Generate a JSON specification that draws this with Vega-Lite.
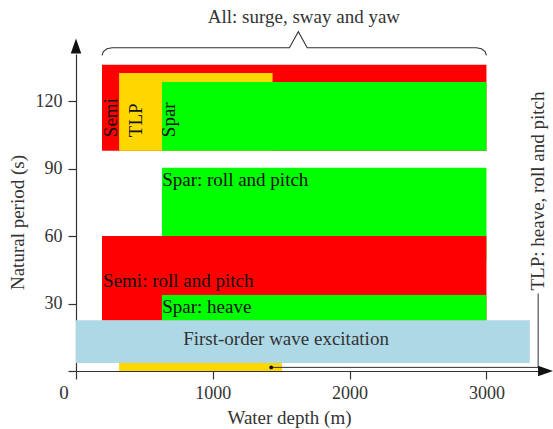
{
  "$schema": "https://vega.github.io/schema/vega-lite/v6.json",
  "width": 472,
  "height": 317,
  "autosize": {"type": "none"},
  "padding": {"left": 76, "top": 54, "right": 5, "bottom": 58},
  "background": "white",
  "config": {
    "view": {"stroke": null},
    "font": "Liberation Serif",
    "axis": {
      "grid": false,
      "domainColor": "#333333",
      "domainWidth": 1.2,
      "tickColor": "#333333",
      "tickWidth": 1.2,
      "tickSize": 8,
      "labelFont": "Liberation Serif",
      "labelFontSize": 18,
      "labelColor": "#333333",
      "titleFont": "Liberation Serif",
      "titleFontSize": 19,
      "titleFontWeight": "normal",
      "titleColor": "#333333"
    }
  },
  "datasets": {
    "rects": [
      {"name": "Semi all", "group": "Semi", "x": 190, "x2": 3000, "y": 98, "y2": 136.2},
      {"name": "TLP all", "group": "TLP", "x": 315, "x2": 1437, "y": 98, "y2": 132.5},
      {"name": "Spar all", "group": "Spar", "x": 628, "x2": 3000, "y": 98, "y2": 128.5},
      {"name": "Spar roll and pitch", "group": "Spar", "x": 628, "x2": 3000, "y": 49, "y2": 90.4},
      {"name": "Semi roll and pitch", "group": "Semi", "x": 190, "x2": 3000, "y": 22.4, "y2": 60.1},
      {"name": "Spar heave", "group": "Spar", "x": 628, "x2": 3000, "y": 22.4, "y2": 33.8},
      {"name": "First-order wave excitation", "group": "Wave", "x": 0, "x2": 3317, "y": 3.6, "y2": 22.6},
      {"name": "TLP heave, roll and pitch", "group": "TLP", "x": 315, "x2": 1506, "y": 0, "y2": 3.6}
    ],
    "leftLabels": [
      {"label": "Spar: roll and pitch", "x": 630, "y": 89},
      {"label": "Semi: roll and pitch", "x": 198, "y": 44.2},
      {"label": "Spar: heave", "x": 630, "y": 32.6}
    ],
    "vertLabels": [
      {"label": "Semi", "x": 254, "y": 104},
      {"label": "TLP", "x": 441, "y": 104},
      {"label": "Spar", "x": 677, "y": 104}
    ],
    "greyLabels": [
      {"label": "First-order wave excitation", "x": 1535, "y": 14.2},
      {"label": "All: surge, sway and yaw", "x": 1666, "y": 157.4},
      {"label": "0", "x": -88, "y": -9.6}
    ],
    "tlpLabel": [
      {"label": "TLP: heave, roll and pitch", "x": 3378, "y": 35.8}
    ],
    "pointer": [
      {"i": 0, "x": 1427, "y": 1.6},
      {"i": 1, "x": 3378, "y": 1.6},
      {"i": 2, "x": 3378, "y": 34.5}
    ],
    "pointerDot": [
      {"x": 1427, "y": 1.6}
    ],
    "brace": [
      {"i": 0, "x": 190, "y": 140.4},
      {"i": 1, "x": 199.8, "y": 142.1},
      {"i": 2, "x": 226.5, "y": 143.35},
      {"i": 3, "x": 263, "y": 143.8},
      {"i": 4, "x": 1560, "y": 143.8},
      {"i": 5, "x": 1625, "y": 150.9},
      {"i": 6, "x": 1690, "y": 143.8},
      {"i": 7, "x": 2927, "y": 143.8},
      {"i": 8, "x": 2963.5, "y": 143.35},
      {"i": 9, "x": 2990.2, "y": 142.1},
      {"i": 10, "x": 3000, "y": 140.4}
    ],
    "arrowRight": [{"x": 3432, "y": 0}],
    "arrowUp": [{"x": 0, "y": 144.6}]
  },
  "encoding": {
    "x": {
      "type": "quantitative",
      "scale": {"domain": [0, 3450], "nice": false, "zero": false}
    },
    "y": {
      "type": "quantitative",
      "scale": {"domain": [0, 141], "nice": false, "zero": false}
    }
  },
  "layer": [
    {
      "data": {"name": "rects"},
      "mark": {"type": "rect", "stroke": null},
      "encoding": {
        "x": {
          "field": "x",
          "type": "quantitative",
          "scale": {"domain": [0, 3450], "nice": false, "zero": false},
          "axis": {
            "values": [0, 1000, 2000, 3000],
            "format": "d",
            "labelExpr": "datum.value == 0 ? '' : datum.label",
            "labelPadding": 5,
            "title": "Water depth (m)",
            "titlePadding": 6,
            "titleX": 213
          }
        },
        "x2": {"field": "x2"},
        "y": {
          "field": "y",
          "type": "quantitative",
          "scale": {"domain": [0, 141], "nice": false, "zero": false},
          "axis": {
            "values": [0, 30, 60, 90, 120],
            "format": "d",
            "labelExpr": "datum.value == 0 ? '' : datum.label",
            "labelPadding": 6,
            "title": "Natural period (s)",
            "titlePadding": 8,
            "titleY": 168
          }
        },
        "y2": {"field": "y2"},
        "color": {
          "field": "group",
          "type": "nominal",
          "scale": {
            "domain": ["Semi", "TLP", "Spar", "Wave"],
            "range": ["#FF0000", "#FFD700", "#00FF00", "#ADD8E6"]
          },
          "legend": null
        }
      }
    },
    {
      "data": {"name": "leftLabels"},
      "mark": {"type": "text", "align": "left", "baseline": "top", "fontSize": 19, "color": "#111111", "font": "Liberation Serif"},
      "encoding": {
        "x": {"field": "x", "type": "quantitative"},
        "y": {"field": "y", "type": "quantitative"},
        "text": {"field": "label"}
      }
    },
    {
      "data": {"name": "vertLabels"},
      "mark": {"type": "text", "align": "left", "baseline": "middle", "angle": 270, "fontSize": 19, "color": "#111111", "font": "Liberation Serif"},
      "encoding": {
        "x": {"field": "x", "type": "quantitative"},
        "y": {"field": "y", "type": "quantitative"},
        "text": {"field": "label"}
      }
    },
    {
      "data": {"name": "greyLabels"},
      "mark": {"type": "text", "align": "center", "baseline": "middle", "fontSize": 19, "color": "#333333", "font": "Liberation Serif"},
      "encoding": {
        "x": {"field": "x", "type": "quantitative"},
        "y": {"field": "y", "type": "quantitative"},
        "text": {"field": "label"}
      }
    },
    {
      "data": {"name": "tlpLabel"},
      "mark": {"type": "text", "align": "left", "baseline": "middle", "angle": 270, "fontSize": 19, "color": "#333333", "font": "Liberation Serif"},
      "encoding": {
        "x": {"field": "x", "type": "quantitative"},
        "y": {"field": "y", "type": "quantitative"},
        "text": {"field": "label"}
      }
    },
    {
      "data": {"name": "pointer"},
      "mark": {"type": "line", "color": "#333333", "strokeWidth": 1, "interpolate": "linear"},
      "encoding": {
        "x": {"field": "x", "type": "quantitative"},
        "y": {"field": "y", "type": "quantitative"},
        "order": {"field": "i", "type": "quantitative"}
      }
    },
    {
      "data": {"name": "pointerDot"},
      "mark": {"type": "point", "filled": true, "color": "#000000", "size": 14, "opacity": 1},
      "encoding": {
        "x": {"field": "x", "type": "quantitative"},
        "y": {"field": "y", "type": "quantitative"}
      }
    },
    {
      "data": {"name": "brace"},
      "mark": {"type": "line", "color": "#333333", "strokeWidth": 1.1, "interpolate": "linear"},
      "encoding": {
        "x": {"field": "x", "type": "quantitative"},
        "y": {"field": "y", "type": "quantitative"},
        "order": {"field": "i", "type": "quantitative"}
      }
    },
    {
      "data": {"name": "arrowRight"},
      "mark": {"type": "point", "filled": true, "color": "#111111", "opacity": 1, "size": 225, "shape": "M1,0L-1,-0.7L-1,0.7Z"},
      "encoding": {
        "x": {"field": "x", "type": "quantitative"},
        "y": {"field": "y", "type": "quantitative"}
      }
    },
    {
      "data": {"name": "arrowUp"},
      "mark": {"type": "point", "filled": true, "color": "#111111", "opacity": 1, "size": 225, "shape": "M0,-1L-0.7,1L0.7,1Z"},
      "encoding": {
        "x": {"field": "x", "type": "quantitative"},
        "y": {"field": "y", "type": "quantitative"}
      }
    }
  ]
}
